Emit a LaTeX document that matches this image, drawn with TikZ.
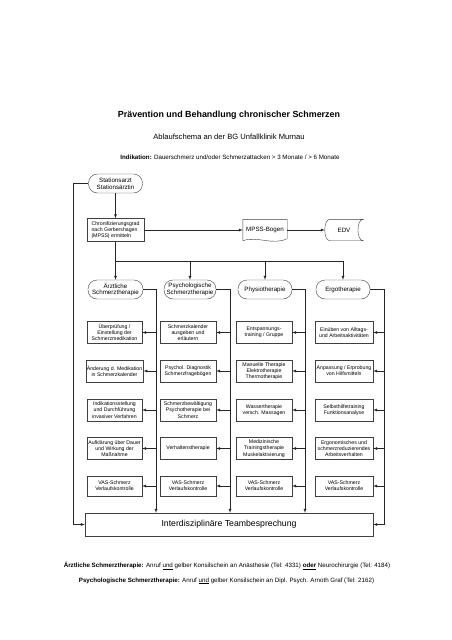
\documentclass[tikz,border=0pt]{standalone}
\usepackage{fontspec}
\setmainfont{Liberation Sans}
\usepackage{tikz}
\usetikzlibrary{arrows}

\begin{document}
\begin{tikzpicture}[x = 1pt, y = -1pt]
% Node styles ---
\tikzstyle{ttl} = [font = \fontsize{8.9}{10}\selectfont\bfseries] % Title
\tikzstyle{sub} = [font = \fontsize{7.6}{9}\selectfont] % Subtitle
\tikzstyle{txt} = [font = \fontsize{6.2}{7}\selectfont] % Text lines
\tikzstyle{term} = [rectangle, rounded corners = 9pt, draw = black!75, fill = white, minimum width = 54pt, minimum height = 19pt, inner sep = 1pt, align = center, font = \fontsize{6.2}{6.9}\selectfont] % Start and therapies
\tikzstyle{task} = [rectangle, draw = black!75, fill = white, minimum width = 56pt, minimum height = 22pt, inner sep = 1pt, align = center, font = \fontsize{5.2}{6.2}\selectfont] % Tasks
\tikzstyle{shp} = [draw = black!75] % Outlines of special shapes
% Edge styles
\tikzstyle{con} = [-latex, draw = black!85] % Arrows
% Begin Figure ---
\useasboundingbox (0,0) rectangle (452,640);
% Texts
\node at (229,115) [ttl] (title) {Prävention und Behandlung chronischer Schmerzen};
\node at (229,137) [sub] (subtitle) {Ablaufschema an der BG Unfallklinik Murnau};
\node at (230,157) [txt] (indik) {\textbf{Indikation:} Dauerschmerz und/oder Schmerzattacken > 3 Monate / > 6 Monate};
\node at (227,566) [txt] (foot1) {\textbf{Ärztliche Schmerztherapie:} Anruf \underline{und} gelber Konsilschein an Anästhesie (Tel: 4331) \textbf{\underline{oder}} Neurochirurgie (Tel: 4184)};
\node at (226.5,581) [txt] (foot2) {\textbf{Psychologische Schmerztherapie:} Anruf \underline{und} gelber Konsilschein an Dipl. Psych. Arnoth Graf (Tel: 2162)};
% Nodes
\node at (115.5,183.5) [term] (stat) {Stationsarzt\\Stationsärztin};
\node at (115.5,230) [task, align = left, minimum width = 57pt, minimum height = 23pt] (chron) {Chronifizierungsgrad\\nach Gerbershagen\\(MPSS) ermitteln};
\node at (265,230) [task, draw = none, fill = none, minimum width = 44pt, minimum height = 21pt, font = \fontsize{6.2}{7}\selectfont] (mpss) {MPSS-Bogen};
\node at (344,230) [task, draw = none, fill = none, minimum width = 38pt, minimum height = 21pt, font = \fontsize{6.2}{7}\selectfont] (edv) {EDV};
\node at (115.5,289.5) [term, minimum width = 55pt] (aerzt) {Ärztliche\\Schmerztherapie};
\node at (190,289.5) [term, minimum width = 52pt] (psych) {Psychologische\\Schmerztherapie};
\node at (265,289.5) [term] (physio) {Physiotherapie};
\node at (343,289.5) [term] (ergo) {Ergotherapie};
\node at (114.5,332.5) [task, minimum width = 55pt] (a1) {Überprüfung /\\Einstellung der\\Schmerzmedikation};
\node at (114.5,371) [task, minimum width = 55pt] (a2) {Änderung d. Medikation\\in Schmerzkalender};
\node at (114.5,410) [task, minimum width = 55pt] (a3) {Indikationsstellung\\und Durchführung\\invasiver Verfahren};
\node at (114.5,448.5) [task, minimum width = 55pt] (a4) {Aufklärung über Dauer\\und Wirkung der\\Maßnahme};
\node at (114.5,486) [task, minimum width = 55pt, minimum height = 20pt] (a5) {VAS-Schmerz\\Verlaufskontrolle};
\node at (188,332.5) [task] (p1) {Schmerzkalender\\ausgeben und\\erläutern};
\node at (188,371) [task] (p2) {Psychol. Diagnostik\\Schmerzfragebögen};
\node at (188,410) [task] (p3) {Schmerzbewältigung\\Psychotherapie bei\\Schmerz};
\node at (188,448.5) [task] (p4) {Verhaltenstherapie};
\node at (188,486) [task, minimum height = 20pt] (p5) {VAS-Schmerz\\Verlaufskontrolle};
\node at (264,332.5) [task] (t1) {Entspannungs-\\training / Gruppe};
\node at (264,371) [task] (t2) {Manuelle Therapie\\Elektrotherapie\\Thermotherapie};
\node at (264,410) [task] (t3) {Wassertherapie\\versch. Massagen};
\node at (264,448.5) [task] (t4) {Medizinische\\Trainingstherapie\\Muskelaktivierung};
\node at (264,486) [task, minimum height = 20pt] (t5) {VAS-Schmerz\\Verlaufskontrolle};
\node at (344,332.5) [task, minimum width = 58pt] (e1) {Einüben von Alltags-\\und Arbeitsaktivitäten};
\node at (344,371) [task, minimum width = 58pt] (e2) {Anpassung / Erprobung\\von Hilfsmitteln};
\node at (344,410) [task, minimum width = 58pt] (e3) {Selbsthilfetraining\\Funktionsanalyse};
\node at (344,448.5) [task, minimum width = 58pt] (e4) {Ergonomisches und\\schmerzreduzierendes\\Arbeitsverhalten};
\node at (344,486) [task, minimum width = 58pt, minimum height = 20pt] (e5) {VAS-Schmerz\\Verlaufskontrolle};
\node at (229,524.5) [task, minimum width = 288pt, minimum height = 23pt, font = \fontsize{8.7}{10}\selectfont] (team) {Interdisziplinäre Teambesprechung};
% Shapes
\draw [shp] (mpss.south west) -- (mpss.north west) -- (mpss.north east) -- ([yshift = 2pt]mpss.south east) .. controls ([xshift = -15pt, yshift = -5pt]mpss.south east) and ([xshift = 15pt, yshift = 5pt]mpss.south west) .. (mpss.south west);
\draw [shp] ([xshift = 5pt]edv.north west) -- (edv.north east) .. controls ([xshift = -7pt]edv.north east) and ([xshift = -7pt]edv.south east) .. (edv.south east) -- ([xshift = 5pt]edv.south west) .. controls ([xshift = -1.7pt]edv.south west) and ([xshift = -1.7pt]edv.north west) .. ([xshift = 5pt]edv.north west);
% Coordinates
\coordinate (lft) at (73,0);
\coordinate (split) at (115.5,261);
\coordinate (bus1) at (156,0);
\coordinate (bus2) at (230,0);
\coordinate (bus3) at (305,0);
\coordinate (bus4) at (384,0);
% Paths
\path (stat) edge [con] (chron);
\path (chron) edge [con] (mpss);
\path (mpss) edge [con] (edv);
\path (chron) edge [con] (aerzt);
\draw [con] (split) -| (psych.north);
\draw [con] (split) -| (physio.north);
\draw [con] (split) -| (ergo.north);
\draw [con] (stat.west) -- (stat.west -| lft) |- (team.west);
\draw [con] (aerzt.east) -| (team.north -| bus1);
\draw [con] (psych.east) -| (team.north -| bus2);
\draw [con] (physio.east) -| (team.north -| bus3);
\draw [con] (ergo.east) -| (team.east -| bus4) -- (team.east);
% Tasks
\draw [con] (a1.east -| bus1) -- (a1.east);
\draw [con] (a2.east -| bus1) -- (a2.east);
\draw [con] (a3.east -| bus1) -- (a3.east);
\draw [con] (a4.east -| bus1) -- (a4.east);
\draw [con] (a5.east -| bus1) -- (a5.east);
\draw [con] (p1.east -| bus2) -- (p1.east);
\draw [con] (p2.east -| bus2) -- (p2.east);
\draw [con] (p3.east -| bus2) -- (p3.east);
\draw [con] (p4.east -| bus2) -- (p4.east);
\draw [con] (p5.east -| bus2) -- (p5.east);
\draw [con] (t1.east -| bus3) -- (t1.east);
\draw [con] (t2.east -| bus3) -- (t2.east);
\draw [con] (t3.east -| bus3) -- (t3.east);
\draw [con] (t4.east -| bus3) -- (t4.east);
\draw [con] (t5.east -| bus3) -- (t5.east);
\draw [con] (e1.east -| bus4) -- (e1.east);
\draw [con] (e2.east -| bus4) -- (e2.east);
\draw [con] (e3.east -| bus4) -- (e3.east);
\draw [con] (e4.east -| bus4) -- (e4.east);
\draw [con] (e5.east -| bus4) -- (e5.east);
\end{tikzpicture}
\end{document}
